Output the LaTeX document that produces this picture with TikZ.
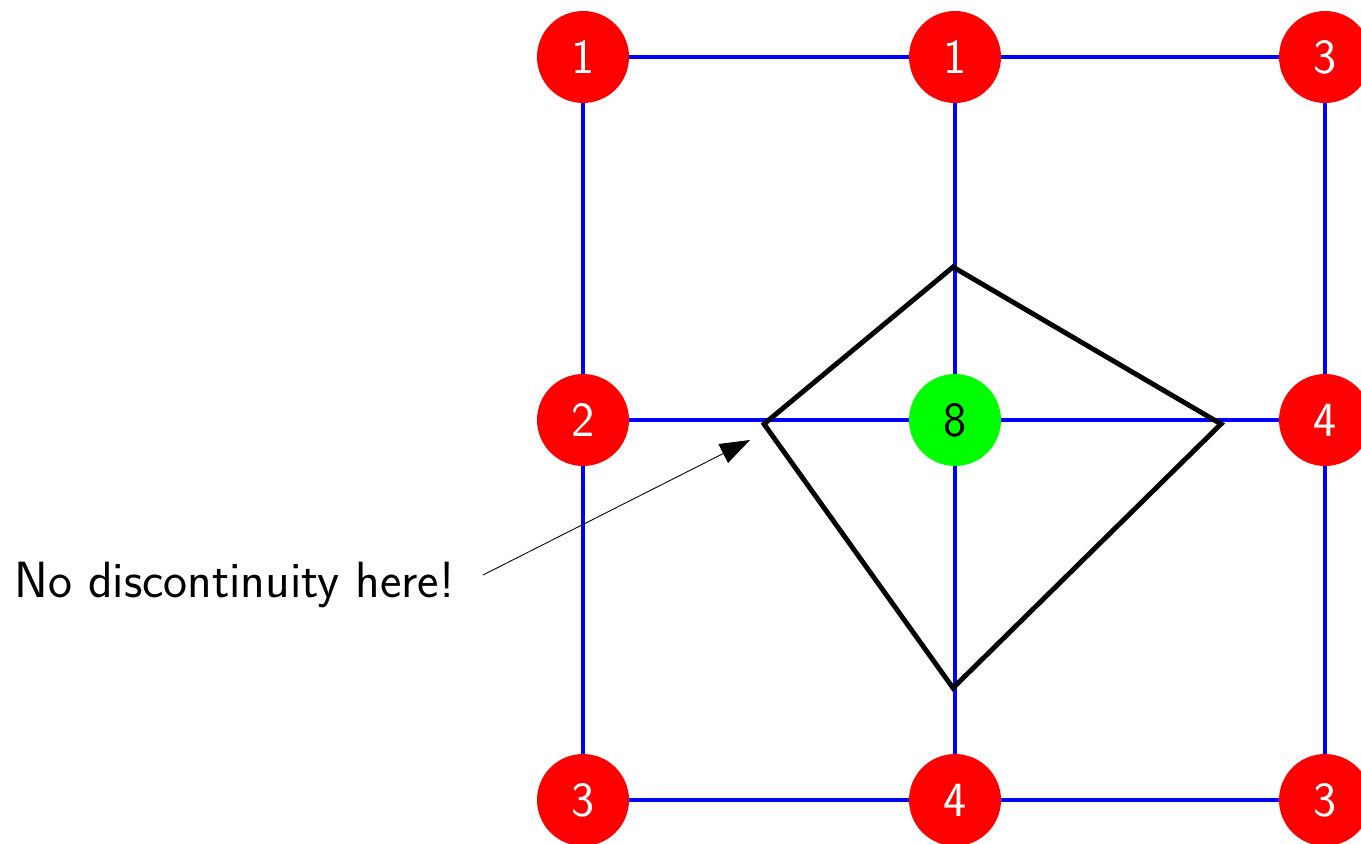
\documentclass[tikz,border=0pt]{standalone}
\usetikzlibrary{arrows.meta}
\begin{document}
\begin{tikzpicture} [x = 0.02cm, y = -0.02cm,
	dof/.style = {circle, fill = red, text = white, minimum size = 1.84cm, inner sep = 0pt, font = \sffamily\fontsize{28}{28}\selectfont},
	mid/.style = {dof, fill = green, text = black},
	edge/.style = {blue, line width = 2.2pt},
	elem/.style = {line width = 2.8pt, line join = miter}]
	\useasboundingbox (0,0) rectangle (1361,844);
	% grid nodes
	\node [dof] (a1) at (583,57) {1};
	\node [dof] (a2) at (955,57) {1};
	\node [dof] (a3) at (1325,57) {3};
	\node [dof] (b1) at (583,420) {2};
	\node [mid] (b2) at (955,420) {8};
	\node [dof] (b3) at (1325,420) {4};
	\node [dof] (c1) at (583,800) {3};
	\node [dof] (c2) at (955,800) {4};
	\node [dof] (c3) at (1325,800) {3};
	\draw [edge] (a1) -- (a2) -- (a3);
	\draw [edge] (b1) -- (b2) -- (b3);
	\draw [edge] (c1) -- (c2) -- (c3);
	\draw [edge] (a1) -- (b1) -- (c1);
	\draw [edge] (a2) -- (b2) -- (c2);
	\draw [edge] (a3) -- (b3) -- (c3);
	% element
	\coordinate (top) at (953,267);
	\coordinate (left) at (764,424);
	\coordinate (right) at (1221,424);
	\coordinate (bot) at (953,688);
	\draw [elem] (top) -- (right) -- (bot) -- (left) -- cycle;
	%\draw (left) -- (right);
	\node [anchor = base west, inner sep = 0pt, font = \sffamily\fontsize{29}{29}\selectfont] (note) at (14,597) {No discontinuity here!};
	\coordinate (tail) at (483,575);
	\coordinate (tip) at (750,440);
	\draw [-{Triangle[length = 0.6cm, width = 0.42cm]}, line width = 0.5pt] (tail) -- (tip);
\end{tikzpicture}
\end{document}
